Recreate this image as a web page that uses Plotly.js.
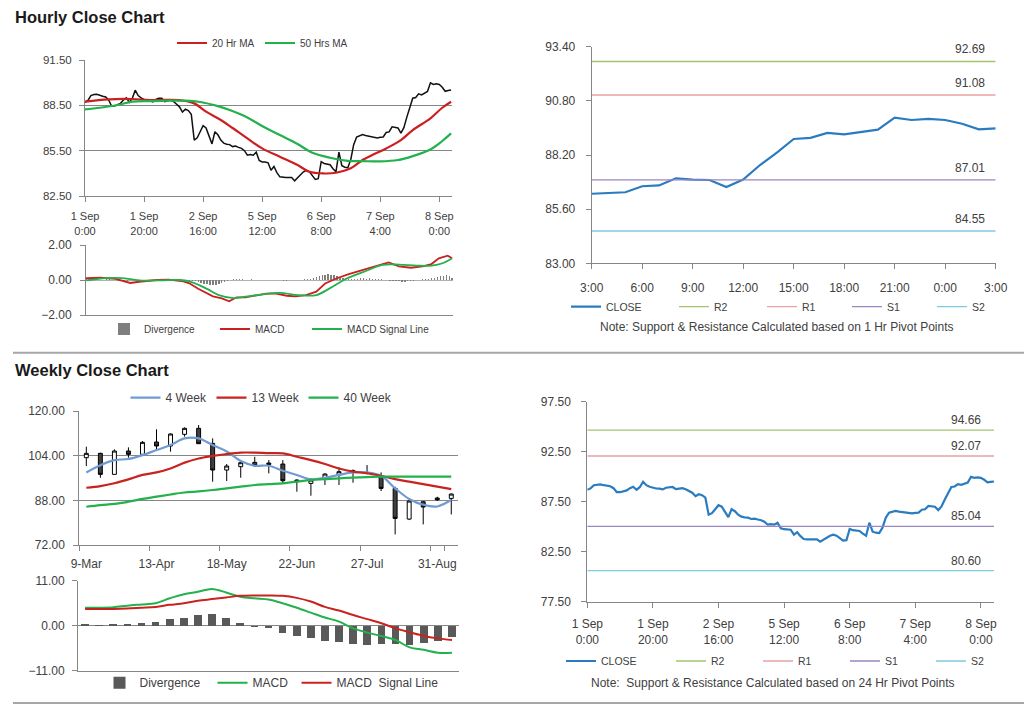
<!DOCTYPE html>
<html><head><meta charset="utf-8">
<script src="https://cdn.plot.ly/plotly-3.0.1.min.js"></script>
<style>html,body{margin:0;padding:0;background:#fff;}#chart{width:1024px;height:706px;}</style>
</head><body><div id="chart"></div>
<script>
// ---------- Hourly data (index 0 = 1 Sep 0:00, trading hours only) ----------
const hourTickPos = [0, 20, 40, 60, 80, 100, 120];
const hourTickText = ["1 Sep<br>0:00", "1 Sep<br>20:00", "2 Sep<br>16:00", "5 Sep<br>12:00", "6 Sep<br>8:00", "7 Sep<br>4:00", "8 Sep<br>0:00"];

const hourlyClose = [
  88.70, 88.83, 89.15, 89.22, 89.23, 89.15, 89.10, 89.05, 88.85, 88.45,
  88.45, 88.55, 88.63, 88.85, 89.00, 88.70, 88.95, 89.50, 89.15, 89.00,
  88.87, 88.82, 88.80, 88.73, 88.90, 88.97, 88.97, 88.75, 88.80, 88.85,
  88.75, 88.60, 88.40, 88.05, 88.25, 88.15, 87.90, 86.20, 86.35, 86.75,
  87.15, 87.00, 86.40, 85.95, 86.75, 86.55, 86.20, 86.00, 85.93, 85.90,
  85.77, 85.80, 85.72, 85.65, 85.50, 85.20, 85.25, 85.20, 85.40, 84.85,
  84.75, 84.75, 84.70, 84.20, 84.45, 84.05, 83.77, 83.73, 83.73, 83.73,
  83.73, 83.50, 83.73, 83.90, 84.10, 84.20, 84.10, 83.85, 83.60, 83.65,
  84.77, 84.65, 84.60, 84.57, 84.30, 84.10, 85.40, 84.50, 84.40, 84.37,
  84.90, 85.90, 86.40, 86.50, 86.57, 86.50, 86.47, 86.42, 86.40, 86.34,
  86.39, 86.41, 86.70, 86.74, 87.08, 87.02, 87.00, 86.66, 87.02, 87.72,
  88.31, 88.97, 89.02, 89.26, 89.19, 89.32, 89.42, 89.99, 89.88, 89.93,
  89.88, 89.70, 89.43, 89.48, 89.52
];

const ma20X = [0, 8, 16, 22, 32, 37, 41, 46, 50, 55, 60, 66, 72, 76, 81, 85, 90, 94, 98, 102, 107, 111, 117, 121, 124];
const ma20Y = [88.74, 88.90, 88.92, 88.85, 88.85, 88.63, 88.08, 87.53, 87.00, 86.31, 85.65, 85.10, 84.55, 84.10, 83.99, 84.04, 84.33, 84.88, 85.28, 85.65, 86.20, 86.86, 87.64, 88.34, 88.74];
const ma50X = [0, 5, 11, 16, 22, 28, 34, 39, 45, 49, 55, 60, 66, 72, 77, 83, 89, 94, 100, 106, 111, 117, 121, 124];
const ma50Y = [88.23, 88.34, 88.52, 88.74, 88.78, 88.81, 88.81, 88.72, 88.45, 88.19, 87.70, 87.13, 86.53, 85.94, 85.36, 85.03, 84.83, 84.81, 84.79, 84.88, 85.14, 85.58, 86.14, 86.64];

const macdHX = [0, 5, 10, 15, 18, 24, 28, 33, 35, 38, 43, 46, 48.5, 51, 54, 58, 61, 64, 68, 71, 74.5, 78, 81, 85, 89, 95, 98, 102.5, 106, 110, 114, 117, 119.5, 122.5, 124];
const macdHY = [0.11, 0.13, 0.06, -0.17, -0.10, 0.00, 0.02, -0.08, -0.19, -0.50, -0.93, -1.05, -1.22, -0.99, -0.99, -0.86, -0.78, -0.76, -0.90, -0.93, -0.86, -0.67, -0.20, 0.10, 0.34, 0.63, 0.78, 1.00, 0.78, 0.70, 0.78, 0.91, 1.24, 1.39, 1.24];
const signalHX = [0, 7, 12, 18, 25, 32, 36, 41, 45, 50, 54, 60, 65.5, 72, 78, 82.5, 88, 95, 100.5, 106, 112, 117, 121, 124];
const signalHY = [-0.02, 0.11, 0.11, -0.02, -0.02, 0.00, -0.13, -0.51, -0.86, -1.03, -0.95, -0.82, -0.74, -0.86, -0.86, -0.48, 0.06, 0.53, 0.86, 0.88, 0.82, 0.82, 0.97, 1.24];
const divergenceH = [
  0.03, 0.04, 0.05, 0.04, 0.03, 0.02, 0.02, 0.03, 0.03, 0.02, -0.02, -0.03, -0.03,
  -0.04, -0.03, -0.02, -0.01, 0.01, 0.02, 0.01, 0.00, 0.00, 0.01, 0.02, 0.02, 0.01, 0.00, 0.00, -0.01, -0.01, -0.02, -0.02, -0.03, -0.03, -0.04, -0.05, -0.06,
  -0.08, -0.12, -0.16, -0.20, -0.25, -0.28, -0.30, -0.28, -0.24, -0.18, -0.12, -0.06,
  0.00, 0.03, 0.04, 0.04, 0.03, 0.02, 0.02, 0.03, 0.02, 0.01, 0.00, 0.00, -0.01, -0.02, -0.02, -0.01, -0.01, -0.02, -0.03, -0.03, -0.02, -0.01, 0.00, 0.01, 0.02, 0.03, 0.04,
  0.06, 0.10, 0.15, 0.22, 0.28, 0.30, 0.32, 0.30, 0.26, 0.22, 0.18, 0.14, 0.11, 0.08, 0.06,
  0.06, 0.08, 0.10, 0.09, 0.08, 0.10, 0.07, 0.06, 0.05, 0.03, 0.02, 0.00,
  -0.03, -0.05, -0.07, -0.08, -0.10, -0.09, -0.07, -0.05, -0.03, -0.01,
  0.02, 0.04, 0.06, 0.08, 0.10, 0.14, 0.18, 0.22, 0.25, 0.26, 0.22, 0.12
];

// last 25 hours (7 Sep 3:00 .. 8 Sep 3:00) = hourlyClose indices 99..123
const last25Start = 99;
const last25TickPos = [0, 3, 6, 9, 12, 15, 18, 21, 24];
const last25TickText = ["3:00", "6:00", "9:00", "12:00", "15:00", "18:00", "21:00", "0:00", "3:00"];

const pivotNames = ["R2", "R1", "S1", "S2"];
const pivot1Hr = [92.69, 91.08, 87.01, 84.55];
const pivot24Hr = [94.66, 92.07, 85.04, 80.60];
const pivotColors = ["#a5c46e", "#e8a3a2", "#9a86c2", "#7ccbe0"];

// ---------- Weekly data ----------
const weeks = ["9-Mar", "16-Mar", "23-Mar", "30-Mar", "6-Apr", "13-Apr", "20-Apr", "27-Apr", "4-May", "11-May", "18-May", "25-May", "1-Jun", "8-Jun", "15-Jun", "22-Jun", "29-Jun", "6-Jul", "13-Jul", "20-Jul", "27-Jul", "3-Aug", "10-Aug", "17-Aug", "24-Aug", "31-Aug", "7-Sep"];
const wkOpen  = [103.27, 104.83, 97.30, 105.66, 104.47, 108.89, 107.46, 111.64, 113.79, 108.41, 98.85, 100.05, 101.60, 101.36, 101.00, 95.27, 94.07, 95.51, 97.06, 98.61, 98.02, 96.46, 92.28, 81.29, 87.50, 88.82, 88.70];
const wkHigh  = [107.22, 105.07, 106.26, 106.98, 109.25, 113.43, 112.00, 114.15, 114.98, 110.20, 101.00, 102.20, 103.60, 102.44, 102.44, 95.51, 95.87, 97.66, 99.81, 99.09, 100.65, 98.02, 92.88, 88.10, 87.74, 89.30, 90.49];
const wkLow   = [100.29, 96.10, 97.30, 103.27, 104.23, 105.66, 105.42, 110.80, 108.29, 94.67, 94.91, 96.10, 100.05, 97.66, 94.07, 91.09, 89.65, 93.48, 93.48, 94.31, 97.30, 91.33, 75.80, 80.93, 79.38, 87.74, 82.96];
const wkClose = [104.83, 97.30, 105.66, 104.47, 108.77, 107.46, 111.76, 113.79, 108.29, 98.85, 100.29, 101.48, 100.41, 100.88, 95.03, 94.67, 95.27, 97.42, 98.26, 98.02, 97.66, 92.28, 81.53, 87.74, 85.60, 88.22, 90.25];
const ma4w  = [98.0, 100.6, 102.4, 102.8, 104.2, 106.0, 107.8, 110.2, 110.2, 107.8, 105.5, 102.1, 100.4, 100.4, 98.6, 97.1, 95.5, 96.1, 97.1, 98.0, 98.0, 96.8, 92.3, 88.5, 86.4, 85.8, 88.2];
const ma13w = [92.5, 93.1, 94.1, 95.5, 97.1, 98.0, 99.4, 101.5, 103.0, 103.9, 104.6, 105.1, 105.1, 104.9, 104.8, 103.6, 102.4, 101.0, 99.4, 98.3, 97.7, 96.8, 95.6, 94.7, 93.8, 92.9, 92.0];
const ma40w = [85.7, 86.3, 86.7, 87.5, 88.5, 89.3, 90.1, 90.8, 91.2, 91.7, 92.3, 92.9, 93.5, 93.8, 94.1, 94.7, 95.3, 95.6, 95.9, 96.1, 96.3, 96.5, 96.5, 96.5, 96.5, 96.5, 96.5];
const wkDivergence = [0.4, 0.1, 0.3, 0.4, 0.65, 1.0, 1.7, 2.0, 2.6, 2.9, 1.8, 0.65, -0.4, -0.65, -1.7, -2.6, -3.1, -3.7, -3.9, -4.5, -4.8, -4.5, -4.5, -4.8, -4.2, -3.7, -2.7];
const wkMacd   = [4.4, 4.4, 4.5, 4.9, 5.2, 5.5, 6.7, 7.7, 8.3, 9.0, 8.1, 7.1, 6.7, 6.4, 5.5, 4.4, 3.2, 2.0, 1.0, -0.65, -1.7, -2.5, -3.5, -5.3, -5.9, -6.6, -6.6];
const wkSignal = [4.1, 4.1, 4.1, 4.2, 4.4, 4.6, 5.1, 5.5, 6.1, 6.5, 6.9, 7.3, 7.4, 7.4, 7.3, 6.8, 5.9, 4.6, 3.7, 2.6, 1.6, 0.6, -0.65, -1.6, -2.5, -3.1, -3.5];
const weekTickIdx = [0, 5, 10, 15, 20, 25];

// ---------- helpers ----------
const W = 1024, H = 706;
const X = px => px / W;
const Y = py => 1 - py / H;
const FONT = "Liberation Sans, Arial, sans-serif";
const TXT = "#404040";
const AX = "#868686";
const hIdx = hourlyClose.map((_, i) => i);
const last25 = hourlyClose.slice(last25Start, last25Start + 25);
const l25Idx = last25.map((_, i) => i);

function axisBase(extra) {
  return Object.assign({
    showline: true, linecolor: AX, linewidth: 1,
    ticks: "outside", tickcolor: AX, ticklen: 5, tickwidth: 1,
    showgrid: false, zeroline: false, fixedrange: true, tickangle: 0,
    tickfont: {family: FONT, size: 12, color: TXT}
  }, extra);
}

const traces = [];
// Top-left price
traces.push({x: hIdx, y: hourlyClose, xaxis: "x", yaxis: "y", type: "scatter", mode: "lines",
  line: {color: "#111111", width: 1.5}, showlegend: false});
traces.push({x: ma20X, y: ma20Y, xaxis: "x", yaxis: "y", type: "scatter", mode: "lines", name: "20 Hr MA",
  line: {color: "#cc1f1f", width: 2.2, shape: "spline"}, legend: "legend", legendwidth: 43});
traces.push({x: ma50X, y: ma50Y, xaxis: "x", yaxis: "y", type: "scatter", mode: "lines", name: "50 Hrs MA",
  line: {color: "#22b14c", width: 2.2, shape: "spline"}, legend: "legend"});
// Top-left MACD
traces.push({x: hIdx, y: divergenceH, xaxis: "x2", yaxis: "y2", type: "bar", name: "Divergence",
  marker: {color: "#7f7f7f"}, width: 0.45, legend: "legend2", legendwidth: 66});
traces.push({x: macdHX, y: macdHY, xaxis: "x2", yaxis: "y2", type: "scatter", mode: "lines", name: "MACD",
  line: {color: "#cc1f1f", width: 1.8}, legend: "legend2", legendwidth: 47});
traces.push({x: signalHX, y: signalHY, xaxis: "x2", yaxis: "y2", type: "scatter", mode: "lines", name: "MACD Signal Line",
  line: {color: "#22b14c", width: 1.8, shape: "spline"}, legend: "legend2"});
// Top-right 1 Hr pivots
traces.push({x: l25Idx, y: last25, xaxis: "x3", yaxis: "y3", type: "scatter", mode: "lines", name: "CLOSE",
  line: {color: "#2a7bc0", width: 2.2}, legend: "legend3", legendwidth: 63});
const tr3w = [43, 40, 40, 40];
pivotNames.forEach((n, k) => traces.push({x: [0, 24], y: [pivot1Hr[k], pivot1Hr[k]], xaxis: "x3", yaxis: "y3",
  type: "scatter", mode: "lines", name: n, line: {color: pivotColors[k], width: 1.3}, legend: "legend3", legendwidth: tr3w[k]}));
// Weekly candles
traces.push({type: "candlestick", x: weeks, open: wkOpen, high: wkHigh, low: wkLow, close: wkClose,
  xaxis: "x4", yaxis: "y4", showlegend: false, whiskerwidth: 0,
  increasing: {line: {color: "#000000", width: 1}, fillcolor: "#ffffff"},
  decreasing: {line: {color: "#000000", width: 1}, fillcolor: "#404040"}});
traces.push({x: weeks, y: ma4w, xaxis: "x4", yaxis: "y4", type: "scatter", mode: "lines", name: "4 Week",
  line: {color: "#6f9bd2", width: 2.2, shape: "spline"}, legend: "legend4", legendwidth: 41});
traces.push({x: weeks, y: ma13w, xaxis: "x4", yaxis: "y4", type: "scatter", mode: "lines", name: "13 Week",
  line: {color: "#c8231e", width: 2.2, shape: "spline"}, legend: "legend4", legendwidth: 47});
traces.push({x: weeks, y: ma40w, xaxis: "x4", yaxis: "y4", type: "scatter", mode: "lines", name: "40 Week",
  line: {color: "#22b14c", width: 2.2, shape: "spline"}, legend: "legend4"});
// Weekly MACD
traces.push({x: weeks, y: wkDivergence, xaxis: "x5", yaxis: "y5", type: "bar", name: "Divergence",
  marker: {color: "#595959"}, width: 0.55, legend: "legend5", legendwidth: 68});
traces.push({x: weeks, y: wkMacd, xaxis: "x5", yaxis: "y5", type: "scatter", mode: "lines", name: "MACD",
  line: {color: "#22b14c", width: 2, shape: "spline"}, legend: "legend5", legendwidth: 39});
traces.push({x: weeks, y: wkSignal, xaxis: "x5", yaxis: "y5", type: "scatter", mode: "lines", name: "MACD  Signal Line",
  line: {color: "#c8231e", width: 2, shape: "spline"}, legend: "legend5"});
// Bottom-right 24 Hr pivots
traces.push({x: hIdx, y: hourlyClose, xaxis: "x6", yaxis: "y6", type: "scatter", mode: "lines", name: "CLOSE",
  line: {color: "#2a7bc0", width: 2.2}, legend: "legend6", legendwidth: 65});
const tr6w = [42, 42, 41, 41];
pivotNames.forEach((n, k) => traces.push({x: [0, 124], y: [pivot24Hr[k], pivot24Hr[k]], xaxis: "x6", yaxis: "y6",
  type: "scatter", mode: "lines", name: n, line: {color: pivotColors[k], width: 1.3}, legend: "legend6", legendwidth: tr6w[k]}));

function legendAt(px, py, size) {
  return {x: X(px), y: Y(py), xanchor: "left", yanchor: "middle", orientation: "h",
    bgcolor: "rgba(0,0,0,0)", borderwidth: 0, traceorder: "normal",
    font: {family: FONT, size: size, color: TXT}};
}

const annotations = [];
annotations.push({xref: "paper", yref: "paper", x: X(13), y: Y(17), xanchor: "left", yanchor: "middle", showarrow: false,
  text: "Hourly Close Chart", font: {family: FONT, size: 16.5, color: "#1a1a1a", weight: "bold"}});
annotations.push({xref: "paper", yref: "paper", x: X(13), y: Y(370), xanchor: "left", yanchor: "middle", showarrow: false,
  text: "Weekly Close Chart", font: {family: FONT, size: 16.5, color: "#1a1a1a", weight: "bold"}});
annotations.push({xref: "paper", yref: "paper", x: X(777), y: Y(327), xanchor: "center", yanchor: "middle", showarrow: false,
  text: "Note: Support & Resistance Calculated based on 1 Hr Pivot Points", font: {family: FONT, size: 12, color: TXT}});
annotations.push({xref: "paper", yref: "paper", x: X(773), y: Y(683), xanchor: "center", yanchor: "middle", showarrow: false,
  text: "Note:  Support & Resistance Calculated based on 24 Hr Pivot Points", font: {family: FONT, size: 12, color: TXT}});
pivot1Hr.forEach(v => annotations.push({xref: "paper", yref: "y3", x: X(987), y: v, xanchor: "right", yanchor: "middle",
  yshift: 12, showarrow: false, text: v.toFixed(2), font: {family: FONT, size: 12, color: TXT}}));
pivot24Hr.forEach(v => annotations.push({xref: "paper", yref: "y6", x: X(983), y: v, xanchor: "right", yanchor: "middle",
  yshift: 10, showarrow: false, text: v.toFixed(2), font: {family: FONT, size: 12, color: TXT}}));

const layout = {
  width: W, height: H, margin: {l: 0, r: 0, t: 0, b: 0},
  paper_bgcolor: "#ffffff", plot_bgcolor: "rgba(0,0,0,0)",
  font: {family: FONT, color: TXT}, boxgap: 0.6, bargap: 0,
  // top-left price
  xaxis: axisBase({domain: [X(85), X(452)], range: [0, 124.3], anchor: "y", tickmode: "array",
    tickvals: hourTickPos, ticktext: hourTickText, tickfont: {family: FONT, size: 11, color: TXT}, ticklabelstandoff: 5}),
  yaxis: axisBase({domain: [Y(196), Y(60)], range: [82.5, 91.5], anchor: "x", tick0: 82.5, dtick: 3,
    showgrid: true, gridcolor: AX, gridwidth: 1, tickformat: ".2f", tickfont: {family: FONT, size: 11.5, color: TXT}, ticklabelstandoff: 5}),
  // top-left MACD
  xaxis2: axisBase({domain: [X(86), X(453)], range: [0, 124.3], anchor: "y2", showticklabels: false, ticks: ""}),
  yaxis2: axisBase({domain: [Y(315), Y(245)], range: [-2, 2], anchor: "x2", tick0: -2, dtick: 2,
    showgrid: true, gridcolor: AX, zeroline: true, zerolinecolor: "#b0b0b0", zerolinewidth: 1, tickformat: ".2f", ticklabelstandoff: 6}),
  // top-right
  xaxis3: axisBase({domain: [X(591.7), X(995.7)], range: [0, 24], anchor: "y3", tickmode: "array",
    tickvals: last25TickPos, ticktext: last25TickText, ticklabelstandoff: 8}),
  yaxis3: axisBase({domain: [Y(263.3), Y(46.7)], range: [83, 93.4], anchor: "x3", tick0: 83, dtick: 2.6,
    tickformat: ".2f", ticklabelstandoff: 8}),
  // weekly candles
  xaxis4: axisBase({type: "category", domain: [X(79.3), X(458.3)], range: [-0.5, 26.5], anchor: "y4",
    tickmode: "array", tickvals: weekTickIdx.map(i => weeks[i]), ticktext: weekTickIdx.map(i => weeks[i]),
    tickson: "boundaries", rangeslider: {visible: false}, ticklabelstandoff: 8, tickangle: 0, automargin: false}),
  yaxis4: axisBase({domain: [Y(545), Y(411)], range: [72, 120], anchor: "x4", tick0: 72, dtick: 16,
    showgrid: true, gridcolor: AX, tickformat: ".2f", ticklabelstandoff: 6}),
  // weekly MACD
  xaxis5: axisBase({type: "category", domain: [X(78), X(459)], range: [-0.5, 26.5], anchor: "y5",
    showticklabels: false, ticks: ""}),
  yaxis5: axisBase({domain: [Y(670.7), Y(580.7)], range: [-11, 11], anchor: "x5", tick0: -11, dtick: 11,
    showgrid: true, gridcolor: AX, zeroline: true, zerolinecolor: AX, tickformat: ".2f", ticklabelstandoff: 5}),
  // bottom-right
  xaxis6: axisBase({domain: [X(587.3), X(994)], range: [0, 124], anchor: "y6", tickmode: "array",
    tickvals: hourTickPos, ticktext: hourTickText, ticklabelstandoff: 6}),
  yaxis6: axisBase({domain: [Y(601.7), Y(401.7)], range: [77.5, 97.5], anchor: "x6", tick0: 77.5, dtick: 5,
    tickformat: ".2f", ticklabelstandoff: 8}),
  legend: legendAt(172, 43, 10),
  legend2: legendAt(104, 329, 10),
  legend3: legendAt(566, 306.7, 10.5),
  legend4: legendAt(125.5, 397.7, 12),
  legend5: legendAt(99.5, 682.7, 12),
  legend6: legendAt(561, 661, 10.5),
  annotations: annotations,
  shapes: [
    {type: "line", xref: "paper", yref: "paper", x0: X(13), x1: 1, y0: Y(352.7), y1: Y(352.7), line: {color: "#a6a6a6", width: 2}},
    {type: "line", xref: "paper", yref: "paper", x0: X(13), x1: 1, y0: Y(703), y1: Y(703), line: {color: "#a6a6a6", width: 2}}
  ]
};

Plotly.newPlot("chart", traces, layout, {displayModeBar: false, staticPlot: true});
</script>
</body></html>
